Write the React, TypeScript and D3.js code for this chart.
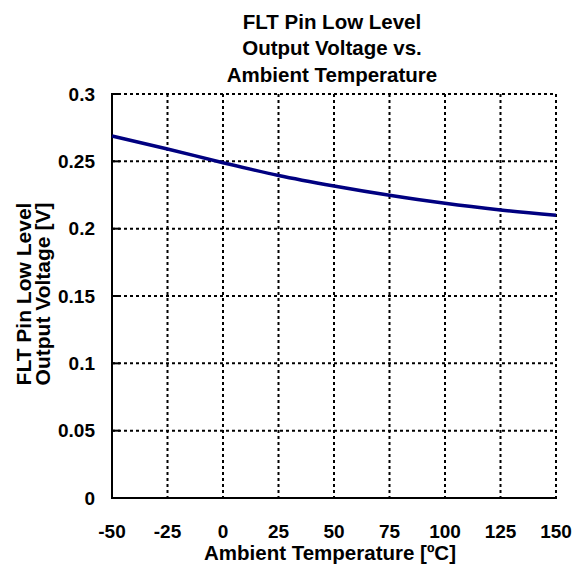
import React from "react";
import * as d3 from "d3";

const temps = [-50, -25, 0, 25, 50, 75, 100, 125, 150];
const volts = [0.2688, 0.2592, 0.249, 0.2395, 0.2317, 0.2248, 0.2188, 0.2139, 0.2099];
const xTicks = [-50, -25, 0, 25, 50, 75, 100, 125, 150];
const yTicks = [0, 0.05, 0.1, 0.15, 0.2, 0.25, 0.3];
const titleLines = ["FLT Pin Low Level", "Output Voltage vs.", "Ambient Temperature"];
const yTitleLines = ["FLT Pin Low Level", "Output Voltage [V]"];
const xTitle = "Ambient Temperature [ºC]";

export default function App() {
  const W = 578, H = 571;
  const L = 112, R = 556, T = 94, B = 498;
  const x = d3.scaleLinear().domain([-50, 150]).range([L, R]);
  const y = d3.scaleLinear().domain([0, 0.3]).range([B, T]);
  const line = d3.line<number>().x((_, i) => x(temps[i])).y((d) => y(d)).curve(d3.curveMonotoneX);
  const font = "'Liberation Sans', Arial, sans-serif";
  return (
    <svg width={W} height={H} style={{ position: "absolute", left: 0, top: 0 }} fontFamily={font} fontWeight="bold">
      <rect width={W} height={H} fill="#fff" />
      {xTicks.slice(1).map((t) => (
        <line key={"gx" + t} x1={x(t)} x2={x(t)} y1={T} y2={B} stroke="#000" strokeWidth={2} strokeDasharray="3,3" />
      ))}
      {yTicks.slice(1).map((t) => (
        <line key={"gy" + t} x1={L} x2={R} y1={y(t)} y2={y(t)} stroke="#000" strokeWidth={2} strokeDasharray="3,3" />
      ))}
      <line x1={L} x2={L} y1={T - 1} y2={B + 1} stroke="#000" strokeWidth={2} />
      <line x1={L - 1} x2={R + 1} y1={B} y2={B} stroke="#000" strokeWidth={2} />
      {yTicks.map((t) => (
        <line key={"ty" + t} x1={L} x2={L + 8} y1={y(t)} y2={y(t)} stroke="#000" strokeWidth={2} />
      ))}
      <path d={line(volts) || ""} fill="none" stroke="#000080" strokeWidth={3.5} />
      {yTicks.map((t) => (
        <text key={"ly" + t} x={95} y={y(t) + 6.5} textAnchor="end" fontSize={19}>{String(t)}</text>
      ))}
      {xTicks.map((t) => (
        <text key={"lx" + t} x={x(t)} y={537.5} textAnchor="middle" fontSize={19}>{String(t)}</text>
      ))}
      {titleLines.map((s, i) => (
        <text key={"t" + i} x={332} y={29 + i * 26.3} textAnchor="middle" fontSize={20.5}>{s}</text>
      ))}
      <text x={330} y={560} textAnchor="middle" fontSize={20.5}>{xTitle}</text>
      {yTitleLines.map((s, i) => (
        <text key={"yt" + i} transform={`translate(${31 + i * 19},${294}) rotate(-90)`} textAnchor="middle" fontSize={21}>{s}</text>
      ))}
    </svg>
  );
}
